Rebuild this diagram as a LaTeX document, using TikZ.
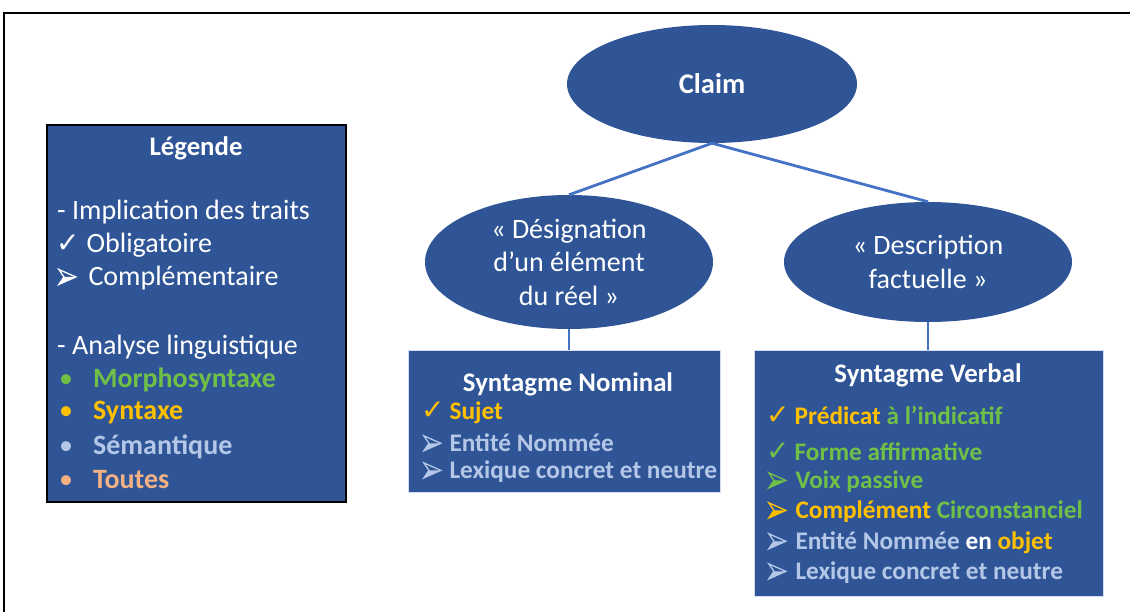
\documentclass[tikz,border=0pt]{standalone}
\usepackage{fontspec}
\setmainfont{Carlito}
\newfontfamily\symfont{DejaVu Sans}
\usetikzlibrary{shapes.geometric}

\definecolor{fondbleu}{RGB}{47,85,151}
\definecolor{traitbleu}{RGB}{68,114,196}
\definecolor{vert}{RGB}{112,192,72}
\definecolor{jaune}{RGB}{255,192,0}
\definecolor{bleuclair}{RGB}{180,199,231}
\definecolor{saumon}{RGB}{244,177,131}

\newcommand{\coche}{{\symfont\fontsize{28}{28}\selectfont ✓}}
\newcommand{\fleche}{\tikz[x=17pt,y=15pt,baseline=-1pt,line width=1.3pt,line join=miter]{%
  \fill (0,0) -- (1,.5) -- (.3,.5) -- cycle;
  \draw (0,0) -- (1,.5) -- (0,1) -- (.3,.5) -- cycle;}}

\begin{document}
\begin{tikzpicture}[x=1pt,y=-1pt]
\tikzstyle{bulle}=[ellipse,fill=fondbleu,text=white,inner sep=0pt,align=center,font=\fontsize{28}{33.5}\selectfont]
\tikzstyle{boite}=[rectangle,fill=fondbleu,draw=bleuclair!60,line width=0.6pt,inner sep=0pt]
\tikzstyle{lien}=[draw=traitbleu,line width=2.8pt]
\tikzstyle{leg}=[anchor=west,inner sep=0pt,text=white,font=\fontsize{28}{28}\selectfont]
\tikzstyle{item}=[anchor=west,inner sep=0pt,font=\bfseries\fontsize{25.3}{25.3}\selectfont]
\tikzstyle{titre}=[inner sep=0pt,text=white,font=\bfseries\fontsize{26.8}{26.8}\selectfont]
\useasboundingbox (0,0) rectangle (1130,612);
\draw[line width=2pt] (4,612) -- (4,13) -- (1130,13);

% arbre
\node[bulle,minimum width=290,minimum height=118,font=\bfseries\fontsize{28.5}{28.5}\selectfont] (claim) at (712,84) {Claim};
\node[bulle,minimum width=288,minimum height=134] (desig) at (569,262) {« Désignation\\d’un élément\\du réel »};
\node[bulle,minimum width=288,minimum height=120] (descr) at (928,262) {« Description\\factuelle »};
\node[boite,minimum width=312,minimum height=142] (sn) at (564,421) {};
\node[boite,minimum width=349,minimum height=246] (sv) at (928.5,473) {};
\draw[lien] (claim.south) -- (desig.north);
\draw[lien] (claim.south) -- (descr.north);
\draw[lien] (desig.south) -- (desig.south |- sn.north);
\draw[lien] (descr.south) -- (descr.south |- sv.north);

% syntagme nominal
\node[titre] (sn-titre) at (568,384) {Syntagme Nominal};
\node[item,text=jaune] (sn-1) at (421,413) {\coche\hspace{5pt}Sujet};
\node[item,text=bleuclair] (sn-2) at (423,443) {\fleche\hspace{8pt}Entité Nommée};
\node[item,text=bleuclair] (sn-3) at (423,472) {\fleche\hspace{8pt}Lexique concret et neutre};

% syntagme verbal
\node[titre] (sv-titre) at (928,375) {Syntagme Verbal};
\node[item,text=jaune] (sv-1) at (766,415) {\coche\hspace{5pt}Prédicat \textcolor{vert}{à l’indicatif}};
\node[item,text=vert] (sv-2) at (766,452) {\coche\hspace{5pt}Forme affirmative};
\node[item,text=vert] (sv-3) at (768,482) {\fleche\hspace{9pt}Voix passive};
\node[item,text=jaune] (sv-4) at (768,512) {\fleche\hspace{9pt}Complément \textcolor{vert}{Circonstanciel}};
\node[item,text=bleuclair] (sv-5) at (768,543) {\fleche\hspace{9pt}Entité Nommée \textcolor{white}{en} \textcolor{jaune}{objet}};
\node[item,text=bleuclair] (sv-6) at (768,573) {\fleche\hspace{9pt}Lexique concret et neutre};

% legende
\node[boite,draw=black,line width=1.2pt,minimum width=299,minimum height=377] (legende) at (196.5,313.5) {};
\node[titre] (leg-titre) at (196,148) {Légende};
\node[leg] (leg-impl) at (57,212) {- Implication des traits};
\node[leg] (leg-oblig) at (56,245) {\coche\hspace{7pt}Obligatoire};
\node[leg] (leg-compl) at (58,278) {\fleche\hspace{12pt}Complémentaire};
\node[leg] (leg-analyse) at (57,347) {- Analyse linguistique};
\node[leg,text=vert] (leg-morpho) at (59,380) {•\hspace{20pt}\textbf{Morphosyntaxe}};
\node[leg,text=jaune] (leg-syntaxe) at (59,413) {•\hspace{20pt}\textbf{Syntaxe}};
\node[leg,text=bleuclair] (leg-sem) at (59,447) {•\hspace{20pt}\textbf{Sémantique}};
\node[leg,text=saumon] (leg-toutes) at (59,480) {•\hspace{20pt}\textbf{Toutes}};
\end{tikzpicture}
\end{document}
